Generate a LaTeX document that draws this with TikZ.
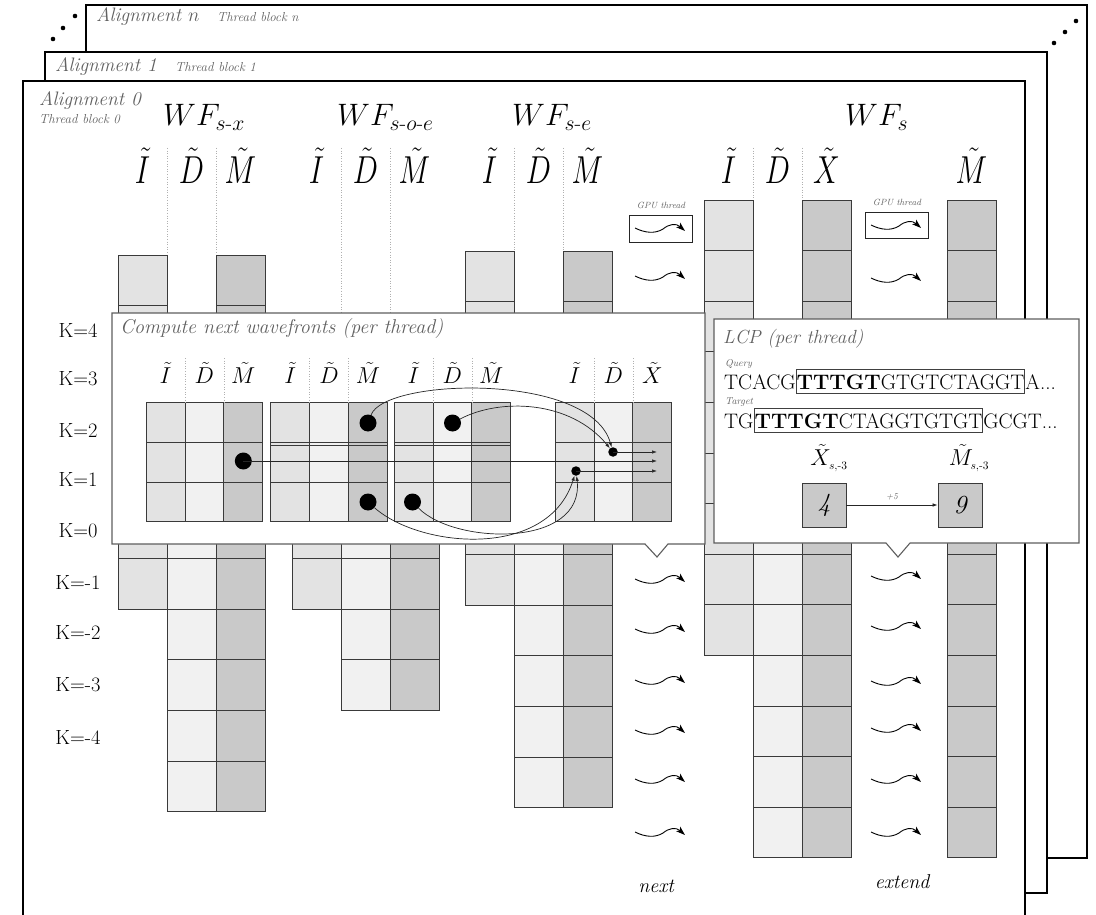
\RequirePackage{fix-cm}
\documentclass[tikz,border=0pt]{standalone}
\usepackage{amsmath}
\usepackage{graphicx}
\usetikzlibrary{arrows.meta}
\definecolor{cI}{HTML}{E3E3E3}
\definecolor{cD}{HTML}{F1F1F1}
\definecolor{cM}{HTML}{C9C9C9}
\definecolor{cline}{HTML}{3A3A3A}
\definecolor{txtgray}{HTML}{606060}
\definecolor{boxline}{HTML}{5E5E5E}
\definecolor{dotline}{HTML}{B0B0B0}
\newcommand\fsz[1]{\fontsize{#1}{#1}\selectfont}
\newcommand\tall[1]{\scalebox{1}[1.3]{#1}}
\newcommand\wfcol[6]{\foreach \r in {#4,...,#5}{\path[cell,fill=#6] (#1,{#2+\r*#3}) rectangle ++(49,#3);}}
\newcommand\cgrid[1]{\foreach \c/\f in {0/cI,1/cD,2/cM}{\foreach \r in {0,1,2}{\path[cell,fill=\f] ({#1+\c*38.9},{402.3+\r*39.8}) rectangle ++(38.9,39.8);}}
  \draw[dotsep] ({#1+38.9},358) -- ({#1+38.9},402.3);
  \draw[dotsep] ({#1+77.8},358) -- ({#1+77.8},402.3);}
\tikzset{
  thr/.pic={\draw[line width=0.9pt,-{Stealth[length=9pt,width=6pt,inset=2pt]}] (-25,-1) .. controls (-15,4) and (-5,5) .. (3,0) .. controls (9,-5) and (16,-6) .. (25,2);}
}
\begin{document}
\begin{tikzpicture}[x=1pt,y=-1pt,
  frame/.style={draw=black, fill=white, line width=1.3pt},
  cell/.style={draw=cline, line width=0.8pt},
  lbl/.style={text=txtgray, font=\fsz{19.5}\itshape, inner sep=0},
  sublbl/.style={text=txtgray, font=\fsz{13}\itshape, inner sep=0},
  tiny/.style={text=txtgray, font=\fsz{9}\itshape, inner sep=0},
  hdr/.style={font=\fsz{30}, inner sep=0},
  wf/.style={font=\fsz{31}, inner sep=0},
  klbl/.style={font=\fsz{20.5}, inner sep=0},
  dotsep/.style={draw=dotline, line width=0.6pt, dotted},
  cbox/.style={draw=boxline, fill=white, line width=1.1pt},
  chdr/.style={font=\fsz{23}, inner sep=0},
  bigdot/.style={circle, fill=black, minimum size=17pt, inner sep=0},
  smalldot/.style={circle, fill=black, minimum size=9.5pt, inner sep=0},
  conn/.style={draw=black!85, line width=0.7pt, -{Latex[length=5pt,width=3.5pt]}},
  seq/.style={font=\fsz{21}, inner xsep=0, inner ysep=0, anchor=base west},
  seqbox/.style={seq, draw=black!75, line width=0.8pt, inner ysep=4.5pt, inner xsep=0.5pt},
  valbox/.style={draw=cline, fill=cM, line width=0.8pt, minimum width=44pt, minimum height=44pt, font=\fsz{26}\itshape, inner sep=0},
  gpubox/.style={draw=black!85, line width=1pt, minimum width=63pt, minimum height=26pt, inner sep=0}
]
\useasboundingbox (0,0) rectangle (1096,915);
% frames
\path[frame] (86,5) rectangle (1087,858);
\path[frame] (45,52) rectangle (1047,893);
\path[frame] (23,81) rectangle (1025,935);
\foreach \p in {(53,39),(63,28),(75,16),(1054,43),(1065,32),(1076,21)} \fill \p circle (2.3);
\node[lbl, anchor=base west] (an) at (96,22) {Alignment $n$};
\node[sublbl, anchor=base west] (tbn) at (217,22) {Thread block n};
\node[lbl, anchor=base west] (a1) at (55,72) {Alignment 1};
\node[sublbl, anchor=base west] (tb1) at (175,72) {Thread block 1};
\node[lbl, anchor=base west] (a0) at (39,106) {Alignment 0};
\node[sublbl, anchor=base west] (tb0) at (39,124) {Thread block 0};
% WF headers
\node[wf, anchor=base west] (wf1) at (163,126) {$WF_{s\text{-}x}$};
\node[wf, anchor=base west] (wf2) at (337,126) {$WF_{s\text{-}o\text{-}e}$};
\node[wf, anchor=base west] (wf3) at (512,126) {$WF_{s\text{-}e}$};
\node[wf, anchor=base west] (wf4) at (845,126) {$WF_{s}$};
% column headers
\foreach \x/\t [count=\i] in {142.5/I,191.5/D,240.5/M,316.5/I,365.5/D,414.5/M,489.5/I,538.5/D,587.5/M,728.5/I,777.5/D,826.5/X,971.5/M}
  \node[hdr] (h\i) at (\x,166) {\tall{$\tilde{\t}$}};
% dotted separators
\foreach \x/\y in {167/255,216/255,341/356,390/356,514/251,563/251,753/200,802/200}
  \draw[dotsep] (\x,148) -- (\x,\y);
% wavefront columns
\wfcol{118}{255}{50.6}{0}{6}{cI}
\wfcol{167}{255}{50.6}{2}{10}{cD}
\wfcol{216}{255}{50.6}{0}{10}{cM}
\wfcol{292}{255}{50.6}{2}{6}{cI}
\wfcol{341}{255}{50.6}{2}{8}{cD}
\wfcol{390}{255}{50.6}{2}{8}{cM}
\wfcol{465}{251}{50.6}{0}{6}{cI}
\wfcol{514}{251}{50.6}{2}{10}{cD}
\wfcol{563}{251}{50.6}{0}{10}{cM}
\wfcol{704}{200}{50.6}{0}{8}{cI}
\wfcol{753}{200}{50.6}{3}{12}{cD}
\wfcol{802}{200}{50.6}{0}{12}{cM}
\wfcol{947}{200}{50.6}{0}{12}{cM}
% K labels
\foreach \k/\y [count=\i] in {4/330,3/379,2/430,1/479,0/531,-1/582,-2/632,-3/685,-4/737}
  \node[klbl] (k\i) at (78,\y) {K=\k};
% GPU threads
\node[gpubox] (g1) at (660.5,229) {};
\node[tiny] (g1l) at (661,205) {GPU thread};
\node[gpubox] (g2) at (897,225.5) {};
\node[tiny] (g2l) at (897,202) {GPU thread};
\foreach \y in {229,277,580,630,681,731,780,833} \pic at (660,\y) {thr};
\foreach \y in {226,279,577,627,682,729,780,833} \pic at (896,\y) {thr};
\node[lbl, text=black, font=\fsz{20}\itshape] (nx) at (656,886) {next};
\node[lbl, text=black, font=\fsz{20}\itshape] (ex) at (902,882) {extend};
% compute box
\draw[cbox] (112,313) -- (705,313) -- (705,544) -- (668,544) -- (657,557) -- (645,544) -- (112,544) -- cycle;
\node[lbl, font=\fsz{20}\itshape, anchor=base west] (ct) at (120,333) {Compute next wavefronts (per thread)};
\cgrid{146}
\cgrid{270.7}
\cgrid{394}
\cgrid{555}
\draw[cell] (270.7,445) -- ++(116.7,0);
\draw[cell] (394,445) -- ++(116.7,0);
\foreach \x/\t [count=\i] in {165.5/I,204.4/D,243.3/M,290.2/I,329.1/D,368/M,413.5/I,452.4/D,491.3/M,574.5/I,613.4/D,652.3/X}
  \node[chdr] (c\i) at (\x,373) {$\tilde{\t}$};
\node[bigdot] (dA) at (243.3,461) {};
\node[bigdot] (dB1) at (368,423) {};
\node[bigdot] (dB3) at (368,502) {};
\node[bigdot] (dC1) at (452.5,423) {};
\node[bigdot] (dC3) at (412.5,502) {};
\node[smalldot] (sD) at (613,452) {};
\node[smalldot] (sI) at (576,471) {};
\coordinate (eD) at (657,452);
\coordinate (eA) at (657,461);
\coordinate (eI) at (657,471);
\draw[conn] (dA.center) -- (eA);
\draw[conn] (sD.center) -- (eD);
\draw[conn] (sI.center) -- (eI);
\draw[conn] (dB1) .. controls (385,378) and (590,372) .. (sD);
\draw[conn] (dC1) .. controls (500,398) and (570,400) .. (sD);
\draw[conn] (dB3) .. controls (420,548) and (548,560) .. (sI);
\draw[conn] (dC3) .. controls (455,545) and (585,548) .. (sI);
% LCP box
\draw[cbox] (714,319) -- (1079,319) -- (1079,543) -- (910,543) -- (898,557) -- (886,543) -- (714,543) -- cycle;
\node[lbl, font=\fsz{19}\itshape, anchor=base west] (lt) at (723,343) {LCP (per thread)};
\node[tiny, font=\fsz{10}\itshape, anchor=base west] (ql) at (725,366) {Query};
\node[seq] (q1) at (724,389) {TCACG};
\node[seqbox] (q2) at (q1.base east) {\textbf{TTTGT}GTGTCTAGGT};
\node[seq] (q3) at (q2.base east) {A...};
\node[tiny, font=\fsz{10}\itshape, anchor=base west] (tl) at (725,404) {Target};
\node[seq] (t1) at (724,428) {TG};
\node[seqbox] (t2) at (t1.base east) {\textbf{TTTGT}CTAGGTGTGT};
\node[seq] (t3) at (t2.base east) {GCGT...};
\node[chdr] (xs) at (829,458) {$\tilde{X}_{\scriptscriptstyle s,\text{-}3}$};
\node[chdr] (ms) at (969,458) {$\tilde{M}_{\scriptscriptstyle s,\text{-}3}$};
\node[valbox] (b4) at (824,505) {4};
\node[valbox] (b9) at (960,505) {9};
\draw[draw=black!85, line width=0.7pt, -{Latex[length=5pt,width=3.5pt]}] (b4) -- (b9) node[midway, above=5pt, tiny] {+5};
\end{tikzpicture}
\end{document}
